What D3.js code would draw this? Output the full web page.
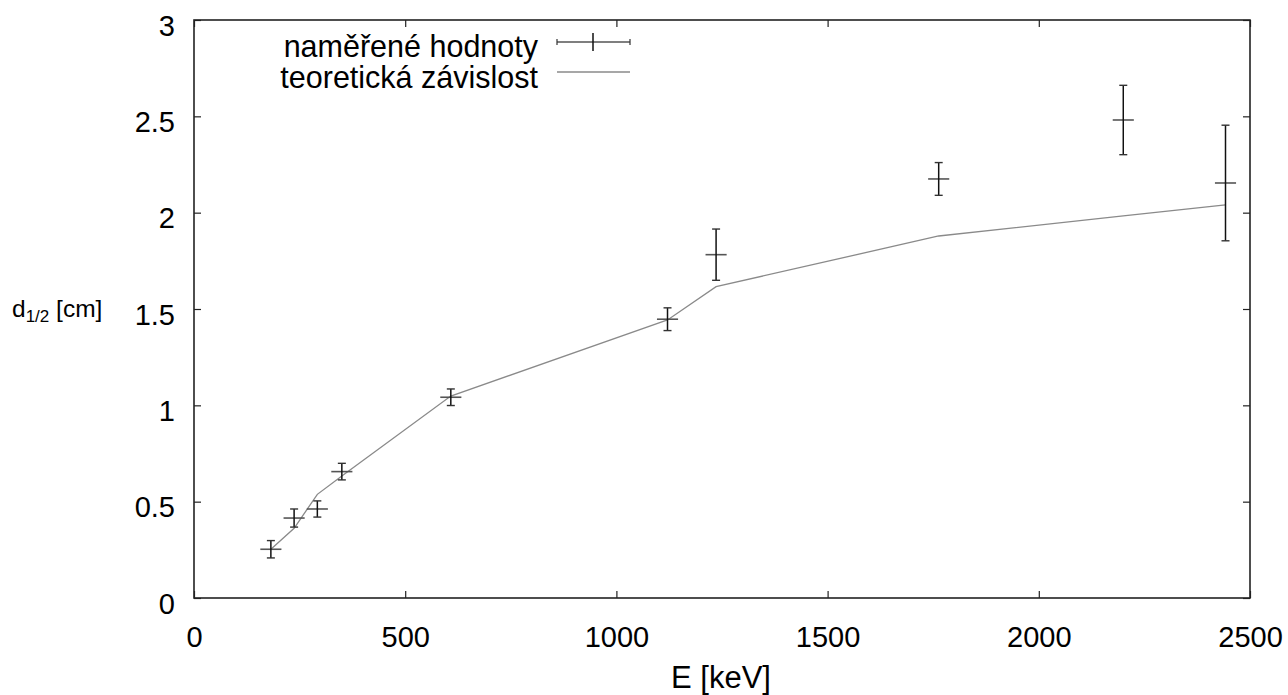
<!DOCTYPE html>
<html>
<head>
<meta charset="utf-8">
<script src="https://cdn.jsdelivr.net/npm/d3@7"></script>
<style>
  body { margin: 0; background: #fff; }
  text { font-family: "Liberation Sans", Arial, sans-serif; fill: #000; }
</style>
</head>
<body>
<div id="chart"></div>
<script>
// measured points (energy, half-thickness) with errors
var energy = [182, 237, 292, 350, 608, 1121, 1236, 1763, 2200, 2442];
var energyErr = [25, 25, 25, 25, 25, 25, 25, 25, 25, 25];
var halfThick = [0.253, 0.415, 0.462, 0.656, 1.042, 1.447, 1.782, 2.175, 2.481, 2.154];
var halfThickErr = [0.045, 0.047, 0.042, 0.043, 0.043, 0.059, 0.133, 0.085, 0.18, 0.30];
// theoretical curve
var theoryE = [182, 237, 292, 350, 608, 1121, 1236, 1763, 2200, 2442];
var theoryD = [0.253, 0.362, 0.538, 0.633, 1.048, 1.443, 1.616, 1.879, 1.983, 2.040];
var xTicks = [0, 500, 1000, 1500, 2000, 2500];
var yTicks = [0, 0.5, 1, 1.5, 2, 2.5, 3];

var margin = {top: 20, right: 38, bottom: 97, left: 194},
    width = 1288 - margin.left - margin.right,
    height = 695 - margin.top - margin.bottom;

const svg = d3.select("#chart")
    .append("svg")
    .attr("width", 1288)
    .attr("height", 695)
    .append("g")
    .attr("transform", `translate(${margin.left},${margin.top})`);

const x = d3.scaleLinear().domain([0, 2500]).range([0, width]);
const y = d3.scaleLinear().domain([0, 3]).range([height, 0]);

const fontSize = 29;

// bottom axis
const gx = svg.append("g")
    .attr("transform", `translate(0,${height})`)
    .call(d3.axisBottom(x).tickValues(xTicks).tickSizeInner(-7).tickSizeOuter(0)
        .tickFormat(d3.format("d")));
gx.selectAll("text").attr("y", 49).attr("dy", null).attr("font-size", fontSize)
    .attr("font-family", null);

// left axis
const gy = svg.append("g")
    .call(d3.axisLeft(y).tickValues(yTicks).tickSizeInner(-7).tickSizeOuter(0)
        .tickFormat(d => d));
gy.selectAll("text").attr("x", -19).attr("dy", null).attr("y", 15).attr("font-size", fontSize)
    .attr("font-family", null);

// mirror ticks
svg.append("g")
    .attr("transform", `translate(${width},0)`)
    .call(d3.axisRight(y).tickValues(yTicks).tickSizeInner(-7).tickSizeOuter(0).tickFormat(""));
svg.append("g")
    .call(d3.axisTop(x).tickValues(xTicks).tickSizeInner(-7).tickSizeOuter(0).tickFormat(""));

svg.selectAll(".domain").remove();
svg.selectAll(".tick line").attr("stroke", "#222").attr("stroke-width", 1.2);

// frame
svg.append("rect")
    .attr("width", width)
    .attr("height", height)
    .attr("fill", "none")
    .attr("stroke", "#222")
    .attr("stroke-width", 1.6);

// theoretical curve
svg.append("path")
    .datum(theoryE.map((e, i) => [e, theoryD[i]]))
    .attr("fill", "none")
    .attr("stroke", "#8a8a8a")
    .attr("stroke-width", 1.3)
    .attr("d", d3.line().x(d => x(d[0])).y(d => y(d[1])));

// error bars
const pts = energy.map((e, i) => ({e: e, de: energyErr[i], d: halfThick[i], dd: halfThickErr[i]}));
const eb = svg.append("g").selectAll("g").data(pts).enter().append("g");
eb.append("line")
    .attr("x1", d => x(d.e - d.de)).attr("x2", d => x(d.e + d.de))
    .attr("y1", d => y(d.d)).attr("y2", d => y(d.d))
    .attr("stroke", "#555").attr("stroke-width", 1.6);
eb.append("line")
    .attr("x1", d => x(d.e)).attr("x2", d => x(d.e))
    .attr("y1", d => y(d.d - d.dd)).attr("y2", d => y(d.d + d.dd))
    .attr("stroke", "#111").attr("stroke-width", 1.5);
[-1, 1].forEach(s => {
    eb.append("line")
        .attr("x1", d => x(d.e) - 4).attr("x2", d => x(d.e) + 4)
        .attr("y1", d => y(d.d + s * d.dd)).attr("y2", d => y(d.d + s * d.dd))
        .attr("stroke", "#333").attr("stroke-width", 1.4);
});

// legend
const lg = svg.append("g").attr("transform", "translate(-194,-20)");
lg.append("text").attr("x", 538).attr("y", 57).attr("text-anchor", "end")
    .attr("font-size", 30.5).text("naměřené hodnoty");
lg.append("text").attr("x", 538).attr("y", 88).attr("text-anchor", "end")
    .attr("font-size", 30.5).text("teoretická závislost");
lg.append("line").attr("x1", 557).attr("x2", 630).attr("y1", 42).attr("y2", 42)
    .attr("stroke", "#555").attr("stroke-width", 1.6);
lg.append("line").attr("x1", 593).attr("x2", 593).attr("y1", 33).attr("y2", 51)
    .attr("stroke", "#111").attr("stroke-width", 1.5);
[557, 630].forEach(px => lg.append("line").attr("x1", px).attr("x2", px)
    .attr("y1", 39).attr("y2", 45).attr("stroke", "#333").attr("stroke-width", 1.2));
lg.append("line").attr("x1", 557).attr("x2", 630).attr("y1", 72).attr("y2", 72)
    .attr("stroke", "#8a8a8a").attr("stroke-width", 1.3);

// axis titles
svg.append("text")
    .attr("x", width / 2 - 1)
    .attr("y", height + 90)
    .attr("text-anchor", "middle")
    .attr("font-size", 31)
    .text("E [keV]");

const yl = svg.append("text")
    .attr("x", -182)
    .attr("y", 297)
    .attr("font-size", 24.5);
yl.append("tspan").text("d");
yl.append("tspan").attr("font-size", 17).attr("dy", 5).text("1/2");
yl.append("tspan").attr("dy", -5).text(" [cm]");
</script>
</body>
</html>
